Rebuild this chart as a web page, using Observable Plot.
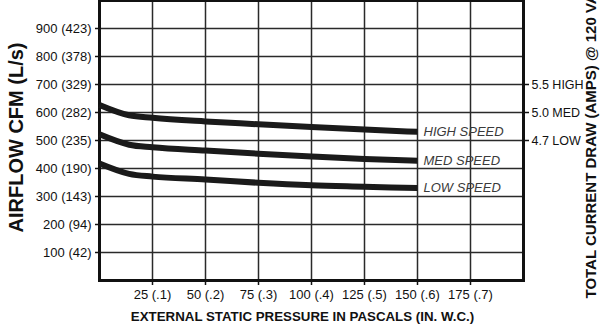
<!DOCTYPE html>
<html>
<head>
<meta charset="utf-8">
<script src="https://cdn.jsdelivr.net/npm/d3@7"></script>
<script src="https://cdn.jsdelivr.net/npm/@observablehq/plot@0.6"></script>
<style>
  html, body { margin: 0; padding: 0; background: #fff; }
  #chart { width: 600px; height: 331px; overflow: hidden; }
</style>
</head>
<body>
<div id="chart"></div>
<script>
// Data
const pressure = [0, 14, 25, 50, 75, 100, 125, 150];
const highSpeed = [627, 590, 581, 568, 558, 548, 539, 531];
const medSpeed  = [522, 485, 476, 464, 453, 443, 434, 428];
const lowSpeed  = [418, 381, 371, 361, 349, 340, 335, 330];
const seriesNames = ["HIGH SPEED", "MED SPEED", "LOW SPEED"];

const yTickValues = [100, 200, 300, 400, 500, 600, 700, 800, 900];
const yTickLabels = ["100 (42)", "200 (94)", "300 (143)", "400 (190)", "500 (235)", "600 (282)", "700 (329)", "800 (378)", "900 (423)"];
const xTickValues = [25, 50, 75, 100, 125, 150, 175];
const xTickLabels = ["25 (.1)", "50 (.2)", "75 (.3)", "100 (.4)", "125 (.5)", "150 (.6)", "175 (.7)"];
const ampTickValues = [700, 600, 500];
const ampTickLabels = ["5.5 HIGH", "5.0 MED", "4.7 LOW"];

const yTitle = "AIRFLOW CFM (L/s)";
const xTitle = "EXTERNAL STATIC PRESSURE IN PASCALS (IN. W.C.)";
const rightTitle = "TOTAL CURRENT DRAW (AMPS) @ 120 VAC";

const seriesValues = [highSpeed, medSpeed, lowSpeed];
const rows = [];
seriesNames.forEach((name, s) => {
  pressure.forEach((p, i) => rows.push({series: name, pressure: p, cfm: seriesValues[s][i]}));
});
const ends = seriesNames.map((name, s) => ({series: name, pressure: pressure[pressure.length - 1], cfm: seriesValues[s][pressure.length - 1]}));

const chart = Plot.plot({
  width: 600,
  height: 331,
  marginLeft: 99,
  marginRight: 77,
  marginTop: 0,
  marginBottom: 51,
  style: {fontFamily: "Arial, 'Liberation Sans', Helvetica, sans-serif", fontSize: "13px", color: "#111", background: "#fff"},
  x: {domain: [0, 200]},
  y: {domain: [0, 1000]},
  marks: [
    Plot.gridX(xTickValues, {stroke: "#2a2a2a", strokeOpacity: 1, strokeWidth: 1.5}),
    Plot.gridY(yTickValues, {stroke: "#2a2a2a", strokeOpacity: 1, strokeWidth: 1.5}),
    Plot.frame({stroke: "#111", strokeWidth: 3}),
    Plot.line(rows, {x: "pressure", y: "cfm", z: "series", curve: "monotone-x", stroke: "#1a1a1a", strokeWidth: 6, strokeLinecap: "butt"}),
    Plot.text(ends, {x: "pressure", y: "cfm", text: "series", textAnchor: "start", dx: 6, fontStyle: "italic", fontSize: 13, fill: "#3a3a3a"}),
    Plot.axisY(yTickValues, {anchor: "left", tickSize: 4, tickPadding: 4, strokeWidth: 1.5, fontSize: 13, label: null,
      tickFormat: (d) => yTickLabels[yTickValues.indexOf(d)]}),
    Plot.axisY(ampTickValues, {anchor: "right", tickSize: 5, tickPadding: 3, strokeWidth: 1.5, fontSize: 12.5, label: null,
      tickFormat: (d) => ampTickLabels[ampTickValues.indexOf(d)]}),
    Plot.axisX(xTickValues, {anchor: "bottom", tickSize: 5, tickPadding: 4, strokeWidth: 1.5, fontSize: 13, label: null,
      tickFormat: (d) => xTickLabels[xTickValues.indexOf(d)]}),
    Plot.text([yTitle], {frameAnchor: "left", textAnchor: "middle", dx: -83, dy: -3, rotate: -90, fontWeight: "bold", fontSize: 20, fill: "#111"}),
    Plot.text([xTitle], {frameAnchor: "bottom", textAnchor: "middle", dx: -9, dy: 40, fontWeight: "bold", fontSize: 13.3, fill: "#111"}),
    Plot.text([rightTitle], {frameAnchor: "bottom-right", dx: 72, dy: 18, rotate: -90, textAnchor: "start", fontWeight: "bold", fontSize: 15, fill: "#111"})
  ]
});
document.getElementById("chart").appendChild(chart);
</script>
</body>
</html>
